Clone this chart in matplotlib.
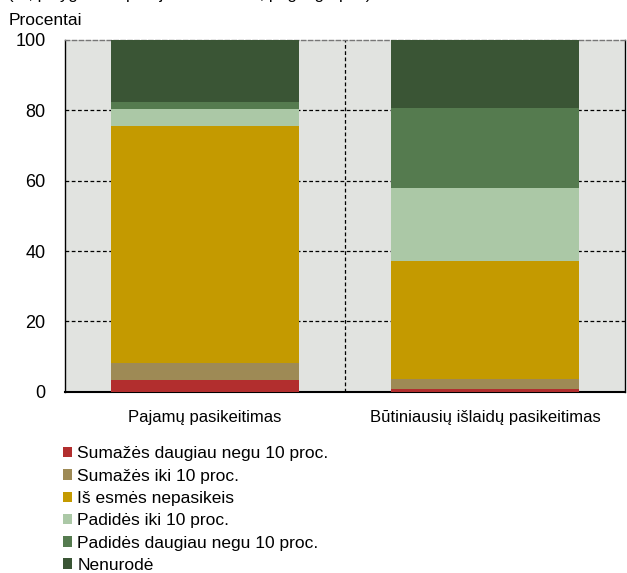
import matplotlib
matplotlib.use("Agg")
import matplotlib.pyplot as plt
from matplotlib.patches import Patch
from matplotlib import font_manager

names = {f.name for f in font_manager.fontManager.ttflist}
fam = [f for f in ["Liberation Sans Narrow", "Liberation Sans", "DejaVu Sans"] if f in names]
plt.rcParams['font.family'] = fam

categories = ["Pajamų pasikeitimas", "Būtiniausių išlaidų pasikeitimas"]
series = ["Sumažės daugiau negu 10 proc.", "Sumažės iki 10 proc.", "Iš esmės nepasikeis",
          "Padidės iki 10 proc.", "Padidės daugiau negu 10 proc.", "Nenurodė"]
values = [
    [3.4, 0.8],
    [4.8, 2.9],
    [67.4, 33.5],
    [4.8, 20.8],
    [2.0, 22.6],
    [17.6, 19.4],
]
colors = ["#B22E2E", "#9E8A55", "#C49A00", "#ABC8A6", "#557B4F", "#3A5535"]
yticks = [0, 20, 40, 60, 80, 100]

fig = plt.figure(figsize=(6.27, 5.73), dpi=100)
ax = fig.add_axes([0.1037, 0.3164, 0.8931, 0.6138])
ax.set_facecolor("#E1E3E0")

x = list(range(len(categories)))
bottom = [0.0] * len(categories)
for vals, col, name in zip(values, colors, series):
    ax.bar(x, vals, bottom=bottom, width=0.67, color=col, label=name, zorder=3)
    bottom = [b + v for b, v in zip(bottom, vals)]

ax.set_xlim(-0.5, 1.5)
ax.set_ylim(0, 100)
ax.set_yticks(yticks)
ax.set_yticklabels([str(t) for t in yticks], fontsize=13)
ax.set_xticks(x)
ax.set_xticklabels(categories, fontsize=12)
ax.tick_params(axis='x', length=0, pad=13)
ax.tick_params(axis='y', length=0, pad=14)

for t in yticks[1:-1]:
    ax.axhline(t, color="black", lw=0.9, ls=(0, (3, 2)), zorder=1)
ax.axvline(0.5, color="black", lw=0.9, ls=(0, (3, 2)), zorder=1)

for s in ["left", "bottom", "right"]:
    ax.spines[s].set_color("black")
ax.spines["left"].set_linewidth(1.0)
ax.spines["bottom"].set_linewidth(1.5)
ax.spines["right"].set_linewidth(1.0)
ax.spines["top"].set_color("#777777")
ax.spines["top"].set_linestyle((0, (3, 2)))
ax.spines["top"].set_linewidth(1.0)

fig.text(0.013, 0.956, "Procentai", fontsize=12.5, ha="left", va="baseline")
fig.text(0.013, 1.001, "(%, palyginti su praėjusiais metais, pagal grupes)", fontsize=12,
         ha="left", va="baseline")

handles = [Patch(facecolor=c, edgecolor="none") for c in colors]
leg = fig.legend(handles, series, loc="upper left", bbox_to_anchor=(0.1, 0.221),
                 frameon=False, fontsize=12.5, handlelength=0.55, handleheight=0.55,
                 handletextpad=0.3, labelspacing=0.42, borderpad=0, borderaxespad=0)

fig.savefig("out.png", dpi=100)
